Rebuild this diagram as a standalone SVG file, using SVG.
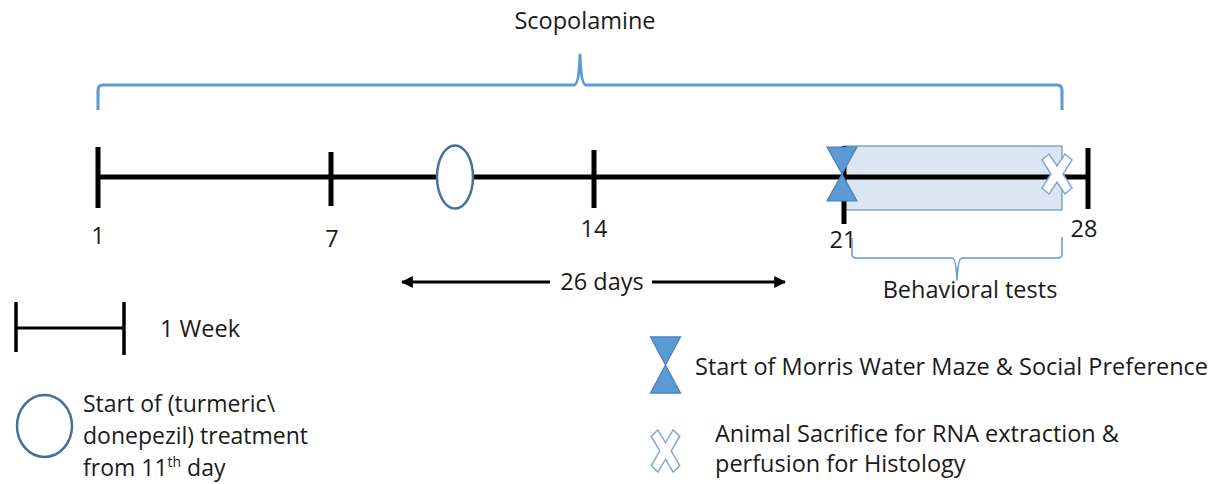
<svg xmlns="http://www.w3.org/2000/svg" width="1230" height="484" viewBox="0 0 1230 484">
<style>
text{font-family:"Open Sans","Liberation Sans",Arial,sans-serif;font-size:23.5px;fill:#1a1a1a}
.blk{stroke:#000;stroke-width:5;fill:none;stroke-linecap:butt}
.brace{stroke:#5B9BD5;fill:none;stroke-linejoin:round}
.hg{fill:#5B9BD5;stroke:#4A7EBB;stroke-width:1.2}
.cx{fill:#fff;stroke:#7FA7D6;stroke-width:1.5}
</style>
<defs>
<marker id="ah" viewBox="0 0 10 10" refX="9" refY="5" markerWidth="4" markerHeight="4" orient="auto-start-reverse" markerUnits="strokeWidth">
<path d="M0,0 L10,5 L0,10 Z" fill="#000"/>
</marker>
<path id="hgshape" d="M-15,-27 L15,-27 L0,0 L15,27 L-15,27 L0,0 Z"/>
<path id="xshape" d="M-15,-14 L-8,-20 L0,-8 L8,-20 L15,-14 L6,0 L15,14 L8,20 L0,8 L-8,20 L-15,14 L-6,0 Z"/>
</defs>
<g id="scopolamine">
<path class="brace" stroke-width="3" d="M98,110 L98,90 Q98,85 103,85 L574,85 Q579,85 580,55 Q581,85 586,85 L1057,85 Q1062,85 1062,90 L1062,110"/>
<text x="585" y="29" text-anchor="middle">Scopolamine</text>
</g>
<g id="behavioral-window">
<rect x="844" y="146" width="218" height="64" fill="#DCE6F2" stroke="#4A7EBB" stroke-width="1"/>
</g>
<g id="timeline">
<line class="blk" x1="98" y1="177" x2="1088" y2="177"/>
<line class="blk" x1="98" y1="147" x2="98" y2="208"/>
<line class="blk" x1="331" y1="152" x2="331" y2="206"/>
<line class="blk" x1="594" y1="150" x2="594" y2="208"/>
<line class="blk" x1="844" y1="146" x2="844" y2="224"/>
<line class="blk" x1="1088" y1="148" x2="1088" y2="209"/>
<text x="98" y="244" text-anchor="middle">1</text>
<text x="332" y="247" text-anchor="middle">7</text>
<text x="594" y="237" text-anchor="middle">14</text>
<text x="843" y="248" text-anchor="middle">21</text>
<text x="1084" y="237" text-anchor="middle">28</text>
</g>
<g id="treatment-start">
<ellipse cx="455" cy="177" rx="18" ry="31.5" fill="#fff" stroke="#41719C" stroke-width="2.5"/>
</g>
<g id="mwm-start">
<use href="#hgshape" class="hg" transform="translate(842,174)"/>
</g>
<g id="sacrifice">
<use href="#xshape" class="cx" transform="translate(1057,174)"/>
</g>
<g id="duration">
<line x1="402" y1="282" x2="550" y2="282" stroke="#000" stroke-width="3" marker-start="url(#ah)"/>
<line x1="652" y1="282" x2="785" y2="282" stroke="#000" stroke-width="3" marker-end="url(#ah)"/>
<text x="602" y="290" text-anchor="middle">26 days</text>
</g>
<g id="behavioral-tests">
<path class="brace" stroke-width="1.5" d="M852,238 L852,254 Q852,258 856,258 L952,258 Q956,258 957,280 Q958,258 962,258 L1058,258 Q1062,258 1062,254 L1062,237"/>
<text x="970" y="298" text-anchor="middle">Behavioral tests</text>
</g>
<g id="legend-week">
<line x1="16" y1="328" x2="124" y2="328" stroke="#000" stroke-width="3"/>
<line x1="16" y1="302" x2="16" y2="352" stroke="#000" stroke-width="3.5"/>
<line x1="124" y1="302" x2="124" y2="355" stroke="#000" stroke-width="3.5"/>
<text x="160" y="337">1 Week</text>
</g>
<g id="legend-treatment">
<ellipse cx="44.5" cy="426" rx="27.5" ry="31" fill="#fff" stroke="#41719C" stroke-width="2.5"/>
<text x="83" y="412" style="font-size:23px">Start of (turmeric\</text>
<text x="83" y="444" style="font-size:23px">donepezil) treatment</text>
<text x="83" y="476" style="font-size:23px">from 11<tspan font-size="14" dy="-9">th</tspan><tspan dy="9"> day</tspan></text>
</g>
<g id="legend-mwm">
<use href="#hgshape" class="hg" transform="translate(665.5,365) scale(1,1.04)"/>
<text x="695" y="375">Start of Morris Water Maze &amp; Social Preference</text>
</g>
<g id="legend-sacrifice">
<use href="#xshape" class="cx" transform="translate(665.5,451) scale(0.95,1.05)"/>
<text x="715" y="442">Animal Sacrifice for RNA extraction &amp;</text>
<text x="715" y="472">perfusion for Histology</text>
</g>
</svg>
